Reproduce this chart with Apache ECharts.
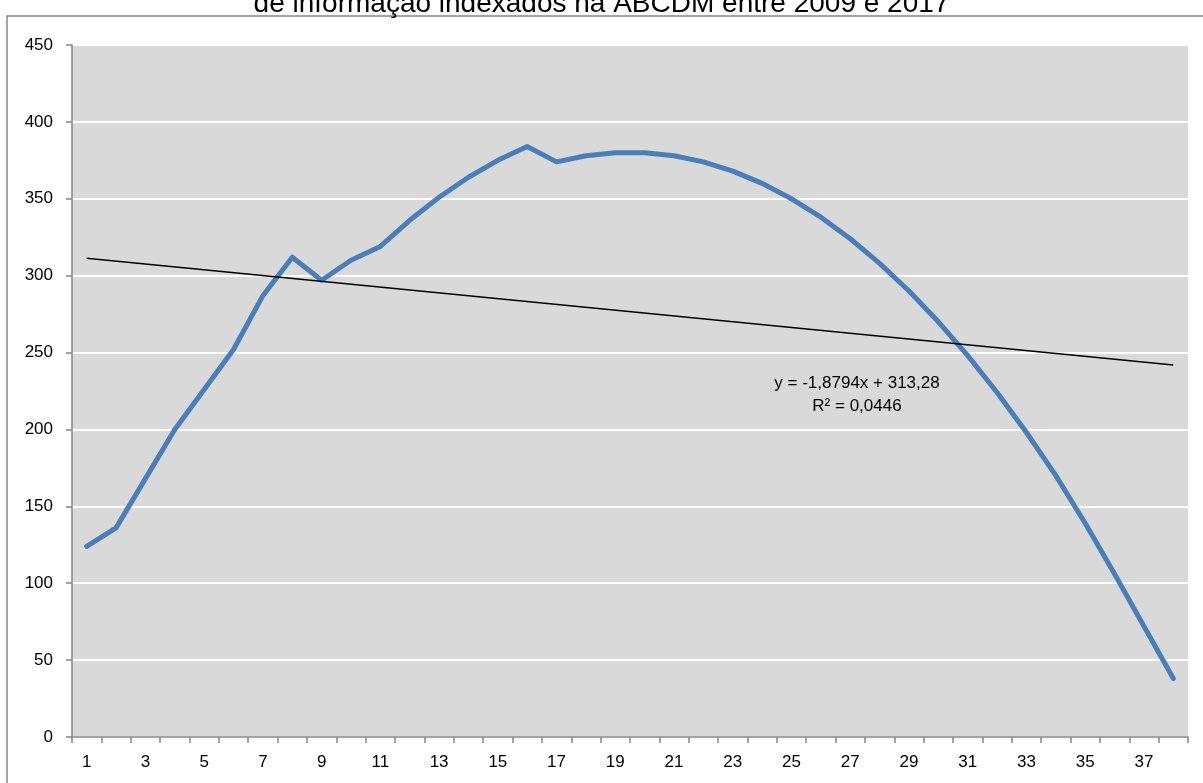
<!DOCTYPE html>
<html>
<head>
<meta charset="utf-8">
<script src="https://cdn.jsdelivr.net/npm/echarts@6/dist/echarts.min.js"></script>
<style>
  html, body { margin: 0; padding: 0; background: #fff; }
  #main { width: 1203px; height: 783px; }
</style>
</head>
<body>
<div id="main"></div>
<script>
// categories 1..38
var categories = ['1','2','3','4','5','6','7','8','9','10','11','12','13','14','15','16','17','18','19',
  '20','21','22','23','24','25','26','27','28','29','30','31','32','33','34','35','36','37','38']

var values = [124, 136, 168, 200, 226, 252, 287, 312, 297, 310, 319, 336, 351, 364, 375, 384, 374, 378, 380,
  380, 378, 374, 368, 360, 350, 338, 324, 308, 290, 270, 248, 224, 198, 170, 139, 106, 72, 38]

// trend line
var trendSlope = -1.8794
var trendIntercept = 313.28
var trendText = ['y = -1,8794x + 313,28', 'R² = 0,0446']

var titleText = 'de informação indexados na ABCDM entre 2009 e 2017'

var chart = echarts.init(document.getElementById('main'))
var font = 'Liberation Sans, Arial, sans-serif'
var axisGray = '#868686'

chart.setOption({
  animation: false,
  textStyle: { fontFamily: font },
  title: {
    text: titleText,
    left: 'center',
    top: -15,
    textStyle: { fontSize: 28, fontWeight: 'normal', color: '#000', fontFamily: font }
  },
  grid: {
    left: 72,
    right: 15,
    top: 45,
    bottom: 46,
    show: true,
    backgroundColor: '#d9d9d9',
    borderWidth: 0
  },
  xAxis: {
    type: 'category',
    data: categories,
    boundaryGap: true,
    axisLine: { lineStyle: { color: axisGray, width: 1.5 } },
    axisTick: { show: true, alignWithLabel: false, interval: 0, length: 6, lineStyle: { color: axisGray, width: 1.5 } },
    axisLabel: { interval: 1, color: '#000', fontSize: 17, margin: 17, fontFamily: font },
    splitLine: { show: false }
  },
  yAxis: {
    type: 'value',
    min: 0,
    max: 450,
    interval: 50,
    axisLine: { show: true, lineStyle: { color: axisGray, width: 1.5 } },
    axisTick: { show: true, length: 6, lineStyle: { color: axisGray, width: 1.5 } },
    axisLabel: { color: '#000', fontSize: 17, margin: 19, fontFamily: font },
    splitLine: { show: true, lineStyle: { color: '#ffffff', width: 2 } }
  },
  series: [
    {
      type: 'line',
      data: values,
      symbol: 'none',
      lineStyle: { color: '#4a7ebb', width: 5, cap: 'round', join: 'round' },
      z: 3,
      markLine: {
        silent: true,
        symbol: ['none', 'none'],
        label: { show: false },
        lineStyle: { color: '#000', width: 1.5, type: 'solid' },
        data: [[
          { coord: [0, trendIntercept + trendSlope * 1] },
          { coord: [categories.length - 1, trendIntercept + trendSlope * categories.length] }
        ]]
      }
    }
  ],
  graphic: [
    {
      type: 'rect',
      shape: { x: 7, y: 16, width: 1210, height: 800 },
      style: { fill: 'none', stroke: axisGray, lineWidth: 1.5 },
      silent: true
    },
    {
      type: 'text',
      x: 857,
      y: 372,
      style: {
        text: trendText.join('\n'),
        font: '17px ' + font,
        fill: '#000',
        align: 'center',
        lineHeight: 23
      }
    }
  ]
})
</script>
</body>
</html>
